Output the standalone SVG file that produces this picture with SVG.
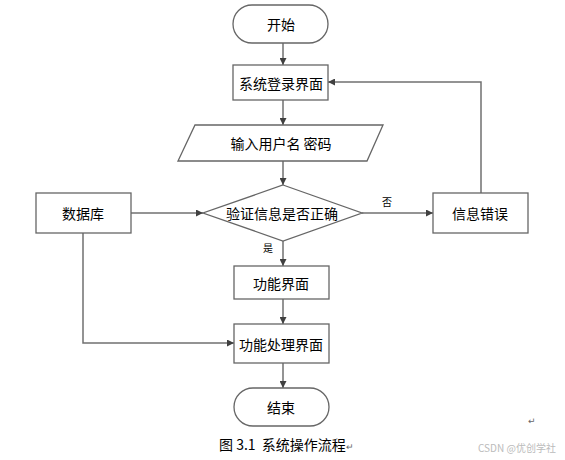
<svg xmlns="http://www.w3.org/2000/svg" width="565" height="460" viewBox="0 0 565 460">
<style>
.s{fill:#fff;stroke:#666;stroke-width:1.3}
.t{font-family:"Noto Sans CJK SC","Noto Sans",sans-serif;font-size:14px;fill:#000;text-anchor:middle;dominant-baseline:central}
.l{font-family:"Noto Sans CJK SC",sans-serif;font-size:10px;fill:#000;text-anchor:middle}
.c{fill:none;stroke:#707070;stroke-width:1.5}
</style>
<defs>
<marker id="a" viewBox="0 0 10 10" refX="10" refY="5" markerWidth="7" markerHeight="7" markerUnits="userSpaceOnUse" orient="auto">
<path d="M0,0L10,5L0,10z" fill="#404040"/>
</marker>
</defs>
<rect width="565" height="460" fill="#fff"/>
<g id="connectors">
<path class="c" d="M283,43V65" marker-end="url(#a)"/>
<path class="c" d="M283,100V125" marker-end="url(#a)"/>
<path class="c" d="M283,161V185" marker-end="url(#a)"/>
<path class="c" d="M131,213H203" marker-end="url(#a)"/>
<path class="c" d="M362,213H433" marker-end="url(#a)"/>
<path class="c" d="M481,193V82H328" marker-end="url(#a)"/>
<path class="c" d="M283,241V266" marker-end="url(#a)"/>
<path class="c" d="M283,299V324" marker-end="url(#a)"/>
<path class="c" d="M83,233V343H234" marker-end="url(#a)"/>
<path class="c" d="M283,363V388" marker-end="url(#a)"/>
<text class="l" x="387" y="206">否</text>
<text class="l" x="268" y="252">是</text>
</g>
<g id="start"><rect class="s" x="233" y="5" width="95" height="38" rx="19"/><text class="t" x="281" y="24">开始</text></g>
<g id="login"><rect class="s" x="233" y="65" width="95" height="35"/><text class="t" x="281" y="82.5">系统登录界面</text></g>
<g id="input"><polygon class="s" points="195,125 383,125 367,161 178,161"/><text class="t" x="281" y="143">输入用户名 密码</text></g>
<g id="verify"><polygon class="s" points="283,185 362,213 283,241 203,213"/><text class="t" x="282" y="213">验证信息是否正确</text></g>
<g id="db"><rect class="s" x="36" y="193" width="95" height="40"/><text class="t" x="83" y="213">数据库</text></g>
<g id="error"><rect class="s" x="433" y="193" width="95" height="40"/><text class="t" x="480" y="213">信息错误</text></g>
<g id="func"><rect class="s" x="234" y="266" width="95" height="33"/><text class="t" x="281" y="282.5">功能界面</text></g>
<g id="proc"><rect class="s" x="234" y="324" width="95" height="39"/><text class="t" x="281" y="343.5">功能处理界面</text></g>
<g id="end"><rect class="s" x="234" y="388" width="95" height="38" rx="19"/><text class="t" x="281" y="407">结束</text></g>
<text x="219" y="450" font-family="'Noto Sans CJK SC',sans-serif" font-size="14" fill="#000">图 3.1&#160; 系统操作流程<tspan font-size="9" fill="#666">↵</tspan></text>
<text x="528" y="424" font-family="'DejaVu Sans',sans-serif" font-size="9" fill="#666">↵</text>
<text x="478" y="452" font-family="'Noto Sans CJK SC',sans-serif" font-size="10" fill="#bbb">CSDN @优创学社</text>
</svg>
